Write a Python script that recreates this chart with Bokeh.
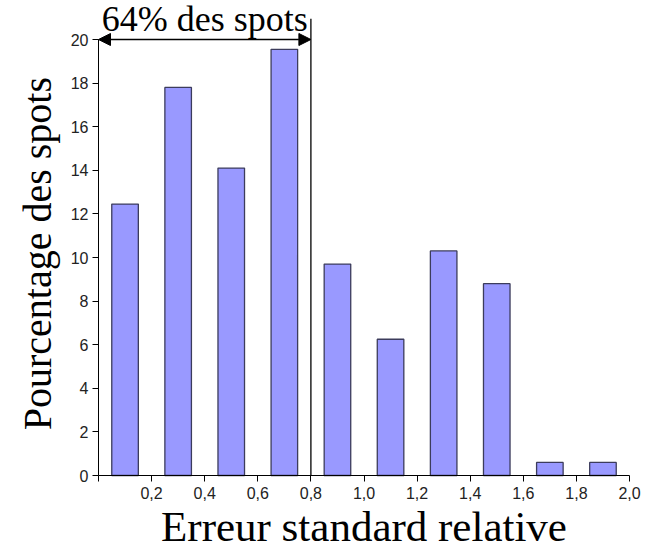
from bokeh.plotting import figure
from bokeh.models import (FixedTicker, CustomJSTickFormatter, Range1d,
                          Arrow, NormalHead)
from bokeh.embed import file_html
from bokeh.resources import INLINE
from bokeh.core.properties import value
import math

# ---- data ----
bin_centers = [0.1, 0.3, 0.5, 0.7, 0.9, 1.1, 1.3, 1.5, 1.7, 1.9]
percentages = [12.45, 17.8, 14.1, 19.55, 9.7, 6.25, 10.3, 8.8, 0.6, 0.6]
bar_width = 0.1
x_ticks = [0.0, 0.2, 0.4, 0.6, 0.8, 1.0, 1.2, 1.4, 1.6, 1.8, 2.0]
y_ticks = [0, 2, 4, 6, 8, 10, 12, 14, 16, 18, 20]
threshold = 0.8
annotation_text = "64% des spots"
x_label = "Erreur standard relative"
y_label = "Pourcentage des spots"

W, H = 646, 549
# frame covers the whole canvas; axes are pinned at x=0 / y=0
p = figure(width=W, height=H, output_backend="svg", toolbar_location=None,
           x_range=Range1d(-0.3691, 2.064), y_range=Range1d(-3.394, 21.789),
           min_border=0, min_border_left=0, min_border_right=0,
           min_border_top=0, min_border_bottom=0)
p.outline_line_color = None
p.xgrid.visible = False
p.ygrid.visible = False
p.background_fill_color = "white"
p.border_fill_color = "white"

p.vbar(x=bin_centers, top=percentages, width=bar_width, bottom=0,
       fill_color="#9999FF", line_color="#3c3c5c", line_width=1.3)

for ax in (p.xaxis[0], p.yaxis[0]):
    ax.fixed_location = 0
    ax.axis_line_color = "black"
    ax.axis_line_width = 1
    ax.major_tick_line_color = "black"
    ax.major_tick_out = 6
    ax.major_tick_in = 0
    ax.minor_tick_line_color = None
    ax.major_label_text_font = "Liberation Sans"
    ax.major_label_text_font_size = "16px"
    ax.major_label_text_color = "#222222"

p.xaxis[0].ticker = FixedTicker(ticks=x_ticks)
p.xaxis[0].formatter = CustomJSTickFormatter(
    code='return tick === 0 ? "" : tick.toFixed(1).replace(".", ",");')
p.xaxis[0].major_label_standoff = 5
p.xaxis[0].bounds = (0, 2.0)

p.yaxis[0].ticker = FixedTicker(ticks=y_ticks)
p.yaxis[0].major_label_standoff = 4
p.yaxis[0].bounds = (0, 20)

# threshold line and arrow
p.segment(x0=[threshold], y0=[0], x1=[threshold], y1=[20.95],
          line_color="black", line_width=1.3)
p.add_layout(Arrow(x_start=0, y_start=20, x_end=threshold, y_end=20,
                   line_color="black", line_width=1.5,
                   start=NormalHead(size=12, fill_color="black", line_color="black"),
                   end=NormalHead(size=12, fill_color="black", line_color="black")))

p.text(x=[threshold / 2], y=[20.94], text=[annotation_text],
       text_font=value("Liberation Serif"), text_font_size="36px",
       text_align="center", text_baseline="alphabetic", text_color="black")

# axis titles
p.text(x=[1.0], y=[-2.33], text=[x_label],
       text_font=value("Liberation Serif"), text_font_size="43px",
       text_align="center", text_baseline="alphabetic", text_color="black")
p.text(x=[-0.228], y=[10.18], text=[y_label], angle=math.pi / 2,
       text_font=value("Liberation Serif"), text_font_size="40px",
       text_align="center", text_baseline="alphabetic", text_color="black")

open("out.html", "w").write(file_html(p, INLINE))
